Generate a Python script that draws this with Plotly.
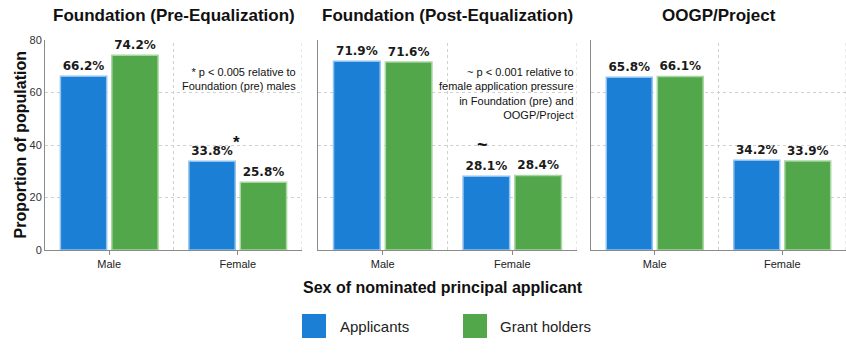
import plotly.graph_objects as go
from plotly.subplots import make_subplots

panels = ["Foundation (Pre-Equalization)", "Foundation (Post-Equalization)", "OOGP/Project"]
categories = ["Male", "Female"]
applicants = [[66.2, 33.8], [71.9, 28.1], [65.8, 34.2]]
grant_holders = [[74.2, 25.8], [71.6, 28.4], [66.1, 33.9]]
series_names = ["Applicants", "Grant holders"]
colors = ["#1b7fd5", "#53a74b"]
line_colors = ["#8fc2ee", "#a8d6a2"]
y_ticks = [0, 20, 40, 60, 80]

FONT = "Liberation Sans, Arial, sans-serif"
W, H = 846, 357
L, R, T, B = 45, 0, 40, 107
pw = W - L - R
ph = H - T - B

def px2dx(x):
    return (x - L) / pw

fig = make_subplots(rows=1, cols=3, horizontal_spacing=0.02)
domains = [(0.0, 257 / pw), (273 / pw, 532 / pw), (546 / pw, 1.0)]

for i in range(3):
    for s, vals in enumerate([applicants[i], grant_holders[i]]):
        fig.add_trace(go.Bar(
            x=categories, y=vals, name=series_names[s],
            marker=dict(color=colors[s], line=dict(color=line_colors[s], width=1.5)),
            texttemplate="%{y:.1f}%", textposition="outside",
            textfont=dict(family="DejaVu Sans", size=12, color="#1a1a1a", weight="bold"),
            cliponaxis=False, showlegend=False, hoverinfo="skip",
        ), row=1, col=i + 1)
    xa = "xaxis" if i == 0 else f"xaxis{i+1}"
    ya = "yaxis" if i == 0 else f"yaxis{i+1}"
    fig.layout[xa].update(
        domain=domains[i], type="category", categoryarray=categories,
        range=[-0.5, 1.5], showgrid=False, showline=True, linecolor="#8a8a8a", linewidth=1,
        ticks="outside", ticklen=4, tickcolor="#8a8a8a", automargin=False,
        tickfont=dict(family=FONT, size=11, color="#222"), zeroline=False,
    )
    fig.layout[ya].update(
        range=[0, 80], tickvals=y_ticks, showgrid=True, griddash="dot",
        gridcolor="#d0d0d0", gridwidth=1, showline=True, linecolor="#8a8a8a", linewidth=1,
        zeroline=False, showticklabels=(i == 0), automargin=False,
        tickfont=dict(family=FONT, size=11, color="#333"),
    )
    xr = "x" if i == 0 else f"x{i+1}"
    yr = "y" if i == 0 else f"y{i+1}"
    for xv in [0.5, 1.5]:
        fig.add_shape(type="line", xref=xr, yref=f"{yr} domain", x0=xv, x1=xv, y0=0, y1=1,
                      line=dict(color="#d0d0d0", width=1, dash="dot"), layer="below")
    fig.add_annotation(text=f"<b>{panels[i]}</b>", xref=f"{xr} domain", yref="paper",
                       x=0.5, y=1.0 + 24 / ph, showarrow=False, yanchor="middle",
                       font=dict(family=FONT, size=17, color="#111"))

fig.update_layout(bargap=0.2, bargroupgap=0.1)

fig.add_annotation(text="<b>Proportion of population</b>", xref="paper", yref="paper",
                   x=px2dx(9), y=0.5, textangle=-90, showarrow=False,
                   font=dict(family=FONT, size=16, color="#111"))

fig.add_annotation(text="* p < 0.005 relative to<br>Foundation (pre) males",
                   xref="x domain", yref="y domain", x=0.985, y=0.885, xanchor="right", yanchor="top",
                   align="right", showarrow=False, font=dict(family=FONT, size=11, color="#111"))
fig.add_annotation(text="<b>*</b>", xref="x domain", yref="y", x=0.766, y=41,
                   showarrow=False, font=dict(family=FONT, size=17, color="#111"))
fig.add_annotation(text="~ p < 0.001 relative to<br>female application pressure<br>in Foundation (pre) and<br>OOGP/Project",
                   xref="x2 domain", yref="y2 domain", x=0.995, y=0.885, xanchor="right", yanchor="top",
                   align="right", showarrow=False, font=dict(family=FONT, size=11, color="#111"))
fig.add_annotation(text="<b>~</b>", xref="x2 domain", yref="y2", x=0.637, y=40,
                   showarrow=False, font=dict(family=FONT, size=18, color="#111"))

fig.add_annotation(text="<b>Sex of nominated principal applicant</b>", xref="paper", yref="paper",
                   x=px2dx(442.5), y=(250 - 298) / ph, showarrow=False,
                   font=dict(family=FONT, size=16, color="#111"))

leg = [(302, 338), (463, 498)]
for s, (sx, tx) in enumerate(leg):
    fig.add_shape(type="rect", xref="paper", yref="paper",
                  x0=px2dx(sx), x1=px2dx(sx + 24), y0=(250 - 314) / ph, y1=(250 - 338) / ph,
                  fillcolor=colors[s], line=dict(width=0))
    fig.add_annotation(text=series_names[s], xref="paper", yref="paper",
                       x=px2dx(tx), y=(250 - 326) / ph, xanchor="left", yanchor="middle",
                       showarrow=False, font=dict(family=FONT, size=15, color="#222"))

fig.update_layout(
    width=W, height=H, margin=dict(l=L, r=R, t=T, b=B),
    plot_bgcolor="white", paper_bgcolor="white", showlegend=False,
    font=dict(family=FONT), hovermode=False,
)

fig.write_html("out.html", config={"displayModeBar": False},
               post_script="document.body.style.margin='0px';")
